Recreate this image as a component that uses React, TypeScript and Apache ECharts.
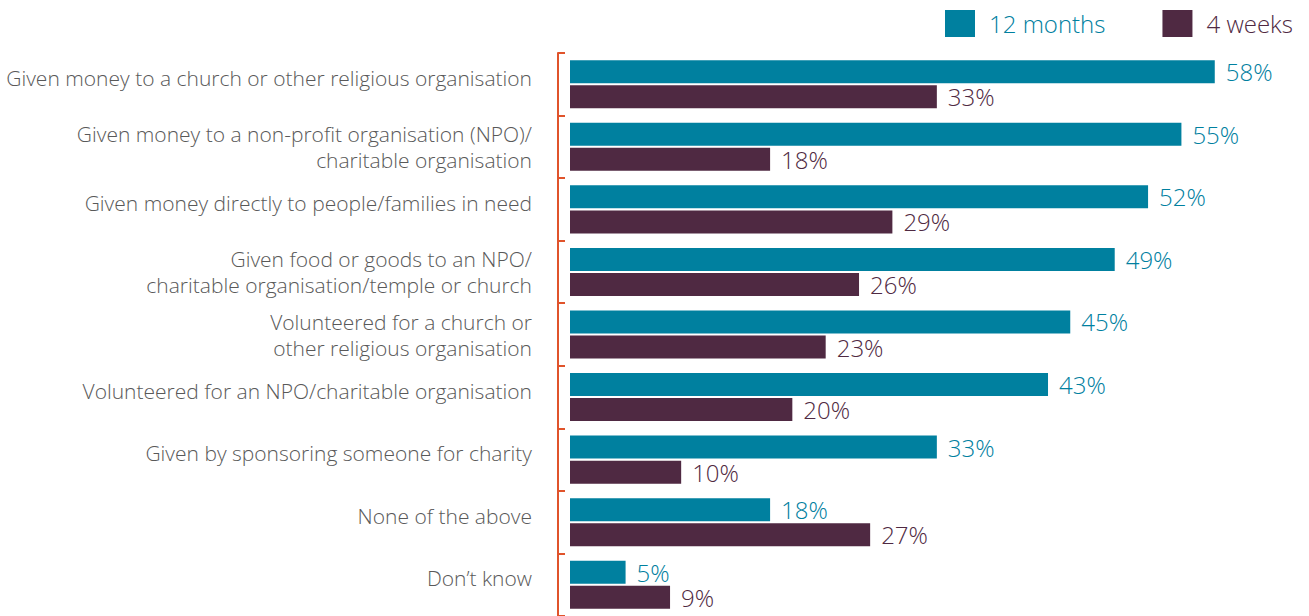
import React, { useEffect, useRef } from "react";
import * as echarts from "echarts";

const categories = [
  "Given money to a church or other religious organisation",
  "Given money to a non-profit organisation (NPO)/\ncharitable organisation",
  "Given money directly to people/families in need",
  "Given food or goods to an NPO/\ncharitable organisation/temple or church",
  "Volunteered for a church or\nother religious organisation",
  "Volunteered for an NPO/charitable organisation",
  "Given by sponsoring someone for charity",
  "None of the above",
  "Don\u2019t know",
];
const months12 = [58, 55, 52, 49, 45, 43, 33, 18, 5];
const weeks4 = [33, 18, 29, 26, 23, 20, 10, 27, 9];
const seriesNames = ["12 months", "4 weeks"];

const TEAL = "#00809F";
const PLUM = "#4F2942";
const AXIS = "#E0532B";
const FONT = "'Open Sans', 'Noto Sans', sans-serif";

export default function App() {
  const ref = useRef<HTMLDivElement>(null);
  useEffect(() => {
    if (!ref.current) return;
    const chart = echarts.init(ref.current, undefined, { renderer: "svg" });
    const label = (color: string) => ({
      show: true,
      position: "right",
      distance: 11,
      formatter: "{c}%",
      color,
      fontSize: 24,
      fontWeight: 300,
      fontFamily: FONT,
    });
    const rs = { fontSize: 21, fontWeight: 300, lineHeight: 26, color: "#595959", fontFamily: FONT };
    chart.setOption({
      animation: false,
      textStyle: { fontFamily: FONT },
      legend: {
        left: 945,
        top: 10,
        itemWidth: 30,
        itemHeight: 27,
        itemGap: 57,
        padding: 0,
        icon: "rect",
        textStyle: { fontSize: 24, fontWeight: 300, fontFamily: FONT, padding: [0, 0, 0, 9] },
        data: [
          { name: seriesNames[0], textStyle: { color: TEAL } },
          { name: seriesNames[1], textStyle: { color: PLUM } },
        ],
      },
      grid: { left: 570, right: 72, top: 53, bottom: -3, containLabel: false },
      xAxis: { type: "value", min: 0, max: 60, show: false },
      yAxis: {
        type: "category",
        inverse: true,
        offset: 12,
        data: categories,
        axisLine: { show: true, onZero: false, lineStyle: { color: AXIS, width: 2 } },
        axisTick: { show: true, inside: true, length: 7, lineStyle: { color: AXIS, width: 2 } },
        axisLabel: {
          margin: 26,
          ...rs,
          formatter: (v: string) => (v.includes("\n") ? v : `{s|${v}}`),
          rich: {
            s: { ...rs, padding: [0, 0, 13, 0] },
          },
        },
      },
      series: [
        {
          name: seriesNames[0],
          type: "bar",
          data: months12,
          barWidth: 23,
          barGap: "9%",
          itemStyle: { color: TEAL },
          label: label(TEAL),
        },
        {
          name: seriesNames[1],
          type: "bar",
          data: weeks4,
          barWidth: 23,
          barGap: "9%",
          itemStyle: { color: PLUM },
          label: label(PLUM),
        },
      ],
    });
    return () => chart.dispose();
  }, []);
  return (
    <div
      ref={ref}
      style={{ position: "absolute", left: 0, top: 0, width: 1309, height: 616, background: "#fff" }}
    />
  );
}
